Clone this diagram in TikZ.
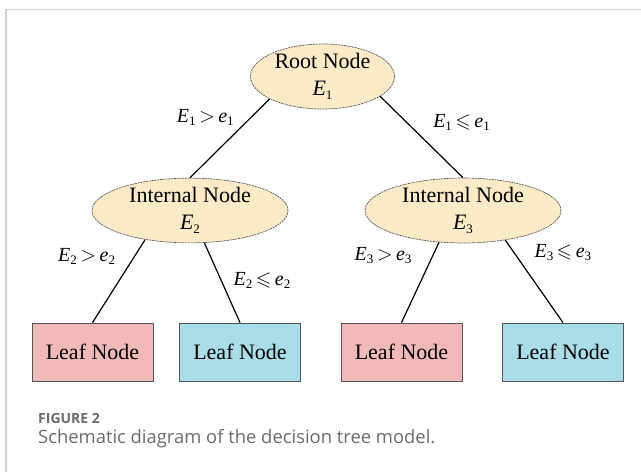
\documentclass[tikz,border=0pt]{standalone}
\usepackage{amsmath}
\usepackage{amssymb}
\usepackage{fontspec}
\setmainfont{Liberation Serif}
\newfontfamily\capfont{Open Sans}
\usetikzlibrary{shapes.geometric, positioning}
\definecolor{nodefill}{HTML}{FDEAC6}
\definecolor{leafred}{HTML}{F2B9B9}
\definecolor{leafblue}{HTML}{A9DDE7}
\definecolor{edgegray}{HTML}{555555}
\definecolor{framegray}{HTML}{D0D0D0}
\definecolor{captext}{HTML}{6B6B6B}
\newcommand{\tvar}[2]{\textit{#1}\raisebox{-0.35ex}{\fontsize{13}{13}\selectfont #2}}

\begin{document}
\begin{tikzpicture}[x=1pt, y=-1pt,
  split/.style={on grid, ellipse, draw=edgegray, line width=0.7pt, dash pattern=on 2pt off 0.8pt,
    fill=nodefill, inner sep=0pt, align=center, font=\fontsize{22}{27}\selectfont},
  leaf/.style={on grid, rectangle, draw=edgegray, line width=0.8pt, minimum width=121pt,
    minimum height=58pt, font=\fontsize{22}{24}\selectfont},
  br/.style={line width=1.2pt, black},
  lbl/.style={font=\fontsize{20}{24}\selectfont, inner sep=3pt}]

  \useasboundingbox (0,0) rectangle (641,472);
  % card frame
  \draw[framegray, line width=1.5pt] (6,472) -- (6,9.5) -- (641,9.5);

  \node[split, minimum width=144pt, minimum height=65pt] (root) at (322.5,76.5) {Root Node\\\tvar{E}{1}};
  \node[split, minimum width=196pt, minimum height=64pt, below left=134pt and 132.5pt of root] (int2) {Internal Node\\\tvar{E}{2}};
  \node[split, minimum width=196pt, minimum height=64pt, right=273pt of int2] (int3) {Internal Node\\\tvar{E}{3}};

  \node[leaf, fill=leafred, below left=141.5pt and 97.5pt of int2] (leaf1) {Leaf Node};
  \node[leaf, fill=leafblue, below right=141.5pt and 50pt of int2] (leaf2) {Leaf Node};
  \node[leaf, fill=leafred, below left=141.5pt and 61.5pt of int3] (leaf3) {Leaf Node};
  \node[leaf, fill=leafblue, below right=141.5pt and 100pt of int3] (leaf4) {Leaf Node};

  \draw[br] (root.-157) -- (int2.north) node[lbl, pos=0.23, anchor=east, xshift=-14pt] (c1) {\tvar{E}{1}$\,>\,$\tvar{e}{1}};
  \draw[br] (root.-19) -- (int3.north) node[lbl, pos=0.32, anchor=west, xshift=23pt] (c2) {\tvar{E}{1}$\,\leqslant\,$\tvar{e}{1}};
  \draw[br] (int2.-147) -- (leaf1.north) node[lbl, pos=0.2, anchor=east, xshift=-16pt] (c3) {\tvar{E}{2}$\,>\,$\tvar{e}{2}};
  \draw[br] (int2.-66) -- (leaf2.north) node[lbl, pos=0.47, anchor=west, xshift=9pt] (c4) {\tvar{E}{2}$\,\leqslant\,$\tvar{e}{2}};
  \draw[br] (int3.-127) -- (leaf3.north) node[lbl, pos=0.16, anchor=east, xshift=-18pt] (c5) {\tvar{E}{3}$\,>\,$\tvar{e}{3}};
  \draw[br] (int3.-35) -- (leaf4.north) node[lbl, pos=0.15, anchor=west, xshift=17pt] (c6) {\tvar{E}{3}$\,\leqslant\,$\tvar{e}{3}};

  % caption
  \node[anchor=base west, inner sep=0pt, text=captext, font=\capfont\bfseries\fontsize{14}{16}\selectfont] (fig) at (38,423) {FIGURE 2};
  \node[anchor=base west, inner sep=0pt, text=captext, font=\capfont\fontsize{18.4}{21}\selectfont] (cap) at (38,443) {Schematic diagram of the decision tree model.};
\end{tikzpicture}
\end{document}
